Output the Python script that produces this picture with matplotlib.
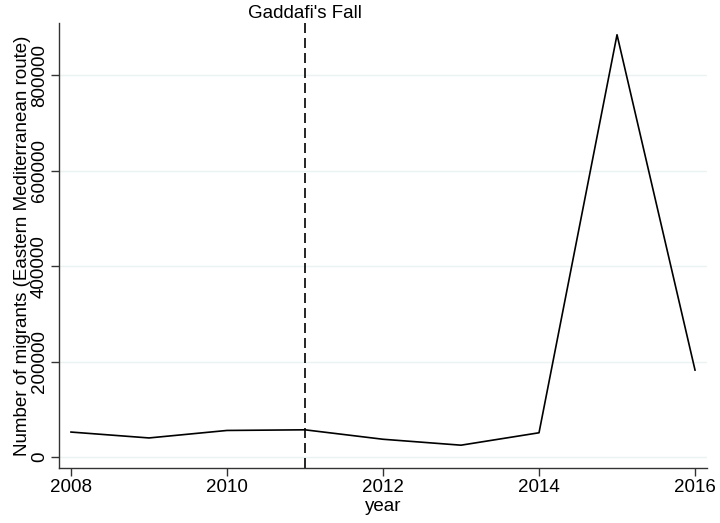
import matplotlib
matplotlib.use("Agg")
import matplotlib.pyplot as plt

plt.rcParams['font.family'] = ['Liberation Sans', 'DejaVu Sans']

# Frontex arrivals, Eastern Mediterranean route
years = [2008, 2009, 2010, 2011, 2012, 2013, 2014, 2015, 2016]
migrants = [52327, 39975, 55688, 57025, 37224, 24799, 50834, 885386, 182277]
event_year = 2011
event_label = "Gaddafi's Fall"
xticks = [2008, 2010, 2012, 2014, 2016]
yticks = [0, 200000, 400000, 600000, 800000]

fs = 13.5

fig = plt.figure(figsize=(7.2, 5.23), dpi=100)
ax = fig.add_axes([0.0819, 0.1052, 0.9001, 0.8508])

ax.plot(years, migrants, color='black', linewidth=1.2)
ax.axvline(event_year, color='black', linewidth=1.2, linestyle=(0, (6.0, 3.0)))
ax.text(event_year, 1.003, event_label, transform=ax.get_xaxis_transform(),
        ha='center', va='bottom', fontsize=fs)

ax.set_xlim(2007.846, 2016.154)
ax.set_ylim(-23000, 910000)
ax.set_xticks(xticks)
ax.set_yticks(yticks)
ax.set_yticklabels([str(v) for v in yticks], rotation=90, va='center')
ax.grid(axis='y', color='#eaf2f3', linewidth=1.0)
ax.set_axisbelow(True)

for side in ['top', 'right']:
    ax.spines[side].set_visible(False)
for side in ['left', 'bottom']:
    ax.spines[side].set_color('#333333')
    ax.spines[side].set_linewidth(1.0)
ax.tick_params(length=6, width=1.0, color='#333333', labelsize=fs, pad=2)

ax.set_xlabel('year', fontsize=fs, labelpad=1.5)
ax.set_ylabel('Number of migrants (Eastern Mediterranean route)', fontsize=fs, labelpad=0)

fig.savefig('out.png', dpi=100)
